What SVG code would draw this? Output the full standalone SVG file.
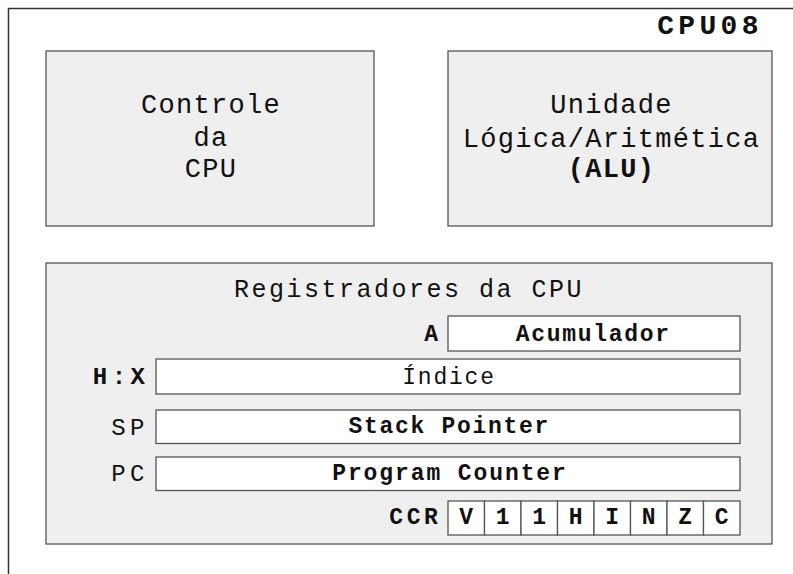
<svg xmlns="http://www.w3.org/2000/svg" width="793" height="574" viewBox="0 0 793 574">
<style>
text{font-family:"Liberation Mono","Courier New",monospace;fill:#111;}
.blk{fill:#efefef;stroke:#555;stroke-width:1.3;}
.reg{fill:#fff;stroke:#555;stroke-width:1.3;}
.t27{font-size:27px;letter-spacing:1.3px;text-anchor:middle;}
.t23{font-size:23px;text-anchor:middle;}
.b{font-weight:bold;}
.lbl{font-size:24px;text-anchor:end;letter-spacing:4.5px;}
</style>
<rect x="8.5" y="8.5" width="800" height="580" fill="#fff" stroke="#333" stroke-width="1.5"/>
<text x="710" y="34" font-size="28" font-weight="bold" letter-spacing="4.3" text-anchor="middle">CPU08</text>
<g id="controle">
<rect class="blk" x="46" y="51" width="328" height="175"/>
<text class="t27" x="211" y="112.5">Controle</text>
<text class="t27" x="211" y="145.5">da</text>
<text class="t27" x="211" y="177">CPU</text>
</g>
<g id="alu">
<rect class="blk" x="448" y="51" width="324" height="175"/>
<text class="t27" x="611.5" y="113">Unidade</text>
<text class="t27" x="611.5" y="146.5" letter-spacing="1">Lógica/Aritmética</text>
<text class="t27 b" x="611.5" y="177">(ALU)</text>
</g>
<g id="registradores">
<rect class="blk" x="46" y="263" width="726" height="281"/>
<text x="409" y="296.5" font-size="25" letter-spacing="2.5" text-anchor="middle">Registradores da CPU</text>
</g>
<g id="reg-a">
<text x="438" y="340.5" font-size="23" font-weight="bold" text-anchor="end">A</text>
<rect class="reg" x="448" y="316" width="292" height="35"/>
<text class="t23 b" x="593.2" y="340.5" letter-spacing="1.7">Acumulador</text>
</g>
<g id="reg-hx">
<text class="lbl b" x="149.5" y="384">H:X</text>
<rect class="reg" x="156" y="359" width="584" height="35"/>
<text class="t23" x="449" y="383.5" letter-spacing="1.8">Índice</text>
</g>
<g id="reg-sp">
<text class="lbl" x="149" y="435">SP</text>
<rect class="reg" x="156" y="410" width="584" height="33.5"/>
<text class="t23 b" x="449.3" y="432.5" letter-spacing="1.7">Stack Pointer</text>
</g>
<g id="reg-pc">
<text class="lbl" x="149" y="481">PC</text>
<rect class="reg" x="156" y="457" width="584" height="33.5"/>
<text class="t23 b" x="450" y="480" letter-spacing="1.9">Program Counter</text>
</g>
<g id="reg-ccr">
<text x="441.5" y="524" font-size="23" font-weight="bold" letter-spacing="3.6" text-anchor="end">CCR</text>
<rect class="reg" x="448" y="501" width="36.5" height="34"/>
<rect class="reg" x="484.5" y="501" width="36.5" height="34"/>
<rect class="reg" x="521" y="501" width="36.5" height="34"/>
<rect class="reg" x="557.5" y="501" width="36.5" height="34"/>
<rect class="reg" x="594" y="501" width="36.5" height="34"/>
<rect class="reg" x="630.5" y="501" width="36.5" height="34"/>
<rect class="reg" x="667" y="501" width="36.5" height="34"/>
<rect class="reg" x="703.5" y="501" width="36.5" height="34"/>
<text class="t23 b" x="466.25" y="524">V</text>
<text class="t23 b" x="502.75" y="524">1</text>
<text class="t23 b" x="539.25" y="524">1</text>
<text class="t23 b" x="575.75" y="524">H</text>
<text class="t23 b" x="612.25" y="524">I</text>
<text class="t23 b" x="648.75" y="524">N</text>
<text class="t23 b" x="685.25" y="524">Z</text>
<text class="t23 b" x="721.75" y="524">C</text>
</g>
<g id="connectors"/>
</svg>
